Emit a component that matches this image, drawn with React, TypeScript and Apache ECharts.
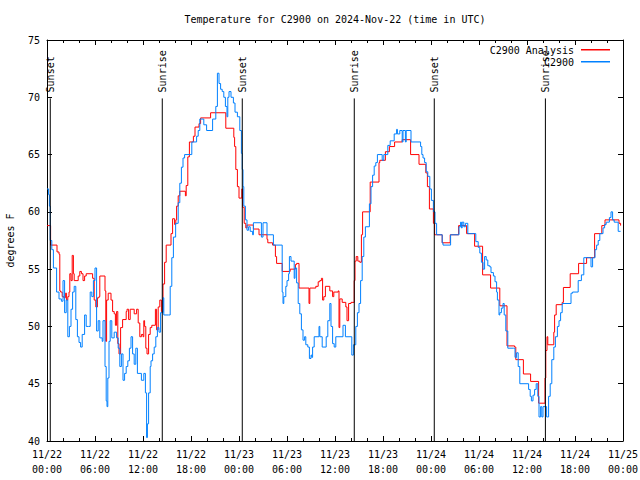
import React, { useEffect, useRef } from "react";
import * as echarts from "echarts";

// Hours since 2024-11-22 00:00 UTC
const analysisHours = [0.0, 0.45, 1.25, 1.5, 1.6, 1.7, 1.9, 2.1, 2.3, 2.45, 2.6, 2.75, 2.85, 3.0, 3.15, 3.3, 3.4, 3.9, 4.1, 4.3, 4.5, 4.7, 4.9, 5.7, 5.9, 6.1, 6.3, 6.5, 6.6, 7.25, 7.35, 7.45, 7.65, 8.0, 8.2, 8.4, 8.55, 8.7, 8.85, 9.0, 9.2, 9.45, 9.9, 10.0, 10.2, 10.4, 10.9, 11.2, 11.4, 11.6, 11.8, 12.0, 12.1, 12.2, 12.35, 12.5, 12.7, 12.9, 13.1, 13.55, 13.7, 13.9, 14.1, 14.3, 14.5, 14.7, 14.9, 15.5, 15.7, 15.95, 16.1, 16.2, 16.4, 16.6, 17.3, 17.4, 17.6, 17.8, 18.3, 18.5, 19.0, 19.2, 20.45, 22.35, 23.35, 23.45, 23.6, 23.8, 24.0, 24.35, 24.45, 24.65, 24.85, 25.0, 25.8, 26.5, 27.5, 27.6, 28.2, 28.55, 28.7, 29.4, 30.4, 31.05, 31.2, 31.5, 32.75, 32.85, 33.6, 33.9, 34.1, 34.3, 34.45, 34.6, 34.8, 35.35, 35.7, 35.85, 36.4, 36.5, 36.6, 36.9, 37.35, 37.5, 37.7, 38.0, 38.4, 38.5, 38.65, 38.85, 39.1, 39.3, 39.45, 40.4, 41.5, 41.6, 42.3, 42.8, 43.45, 44.4, 45.45, 46.5, 47.35, 47.55, 47.8, 48.3, 48.45, 49.4, 50.4, 51.45, 52.45, 53.45, 54.45, 55.45, 56.6, 57.5, 58.45, 58.6, 59.55, 60.45, 61.45, 62.25, 62.35, 62.5, 62.6, 63.35, 63.45, 63.65, 64.4, 64.55, 65.4, 66.45, 67.45, 68.45, 69.35, 69.75, 71.5, 71.7];
const analysisTemps = [58.8, 57.1, 56.5, 56.3, 53.1, 53.0, 52.6, 52.5, 52.9, 52.3, 52.6, 53.0, 54.6, 54.0, 56.2, 54.6, 54.0, 54.4, 54.8, 54.6, 54.0, 54.4, 54.6, 54.2, 52.3, 51.7, 52.5, 52.6, 54.4, 53.1, 48.7, 52.3, 52.9, 52.3, 51.3, 51.1, 50.1, 51.3, 48.5, 47.6, 49.9, 50.6, 51.3, 51.5, 50.6, 51.5, 51.1, 51.5, 50.3, 49.1, 49.3, 49.1, 50.5, 50.0, 48.1, 47.6, 49.3, 49.9, 50.1, 51.5, 49.7, 51.7, 52.3, 51.3, 53.7, 55.6, 57.1, 58.1, 59.4, 58.9, 59.3, 60.5, 61.4, 61.8, 61.4, 62.3, 64.8, 66.1, 66.6, 67.4, 67.7, 68.2, 68.65, 67.3, 66.5, 65.7, 63.7, 62.2, 61.2, 62.0, 60.4, 59.0, 58.6, 58.85, 58.5, 58.0, 57.6, 57.3, 57.1, 56.1, 55.5, 54.8, 55.0, 55.4, 55.5, 53.35, 52.0, 53.35, 53.5, 53.9, 54.0, 54.2, 52.3, 52.6, 53.5, 53.1, 52.6, 53.0, 53.1, 49.9, 52.4, 52.1, 51.7, 50.5, 52.0, 52.1, 54.0, 55.7, 56.1, 55.7, 55.6, 58.0, 60.0, 62.6, 64.3, 64.5, 65.25, 65.7, 66.1, 66.3, 65.0, 64.15, 63.4, 62.2, 60.25, 59.0, 58.0, 57.3, 58.0, 58.8, 58.1, 57.0, 54.5, 53.35, 51.8, 48.3, 48.2, 47.1, 45.85, 45.2, 43.3, 45.5, 47.9, 49.1, 48.4, 49.5, 51.0, 51.9, 52.1, 53.4, 54.6, 55.5, 56.0, 58.1, 58.8, 59.3, 59.0, 58.8];

const observedHours = [0.0, 0.2, 0.3, 0.4, 0.6, 0.8, 1.2, 1.5, 1.8, 2.0, 2.2, 2.4, 2.6, 2.8, 3.0, 3.2, 3.4, 3.6, 3.8, 4.0, 4.2, 4.4, 4.7, 4.9, 5.2, 5.4, 5.6, 5.8, 6.0, 6.2, 6.4, 6.6, 6.9, 7.0, 7.25, 7.4, 7.5, 7.6, 7.75, 7.9, 8.1, 8.4, 8.7, 8.9, 9.1, 9.3, 9.5, 9.7, 9.9, 10.1, 10.3, 10.5, 10.7, 10.9, 11.1, 11.3, 11.8, 12.1, 12.3, 12.45, 12.55, 12.7, 12.9, 13.0, 13.2, 13.4, 13.6, 13.8, 14.0, 14.2, 14.5, 14.6, 15.2, 15.4, 15.6, 15.8, 16.08, 16.4, 16.6, 16.8, 17.0, 17.2, 18.1, 18.7, 18.9, 19.1, 19.6, 19.95, 20.7, 21.1, 21.3, 21.5, 21.7, 21.9, 22.1, 22.3, 22.5, 22.6, 22.75, 23.0, 23.3, 23.5, 23.8, 24.1, 24.3, 24.4, 24.5, 24.6, 24.8, 25.0, 25.2, 25.4, 25.7, 25.8, 26.8, 27.0, 27.5, 28.3, 29.4, 29.5, 29.6, 29.85, 30.0, 30.2, 30.3, 30.5, 30.9, 31.0, 31.2, 31.4, 31.6, 31.8, 32.0, 32.2, 32.35, 32.6, 32.8, 33.0, 33.1, 33.2, 33.4, 34.0, 34.1, 34.4, 34.9, 35.1, 35.35, 35.5, 35.7, 35.9, 36.1, 37.0, 37.3, 38.1, 38.3, 38.6, 38.8, 39.0, 39.2, 39.4, 39.6, 39.8, 40.3, 40.5, 40.7, 40.9, 41.1, 41.3, 41.9, 42.1, 42.6, 42.9, 43.4, 43.7, 43.8, 44.1, 44.4, 44.5, 44.8, 44.9, 45.5, 46.7, 46.85, 47.0, 47.2, 47.4, 47.6, 47.85, 48.05, 48.3, 48.5, 48.7, 49.4, 49.5, 50.45, 51.5, 51.7, 51.8, 51.9, 52.1, 52.3, 52.6, 53.6, 53.9, 54.1, 54.3, 54.5, 54.7, 54.9, 55.1, 55.35, 55.5, 55.8, 56.0, 56.2, 56.3, 56.5, 56.6, 56.8, 57.0, 57.15, 57.35, 57.6, 58.3, 58.5, 58.7, 58.9, 59.1, 60.2, 60.4, 60.55, 60.75, 60.95, 61.15, 61.35, 61.5, 61.7, 61.85, 62.0, 62.3, 62.45, 62.6, 62.7, 62.9, 63.1, 63.35, 63.55, 63.8, 64.0, 64.2, 64.4, 65.5, 65.7, 66.4, 66.8, 67.1, 68.0, 68.2, 68.5, 68.7, 68.9, 69.1, 69.5, 69.7, 69.9, 70.3, 70.5, 70.7, 70.9, 71.4, 71.7];
const observedTemps = [62.0, 61.5, 60.5, 57.5, 56.7, 55.1, 53.0, 52.4, 52.2, 54.0, 51.2, 52.3, 49.1, 50.0, 51.5, 53.0, 53.5, 50.6, 49.1, 48.6, 48.2, 49.3, 51.0, 50.0, 50.0, 53.0, 52.6, 54.0, 55.1, 49.6, 50.5, 49.0, 48.7, 50.5, 46.5, 43.5, 43.0, 45.5, 48.7, 50.5, 49.0, 49.5, 49.0, 48.1, 46.5, 47.6, 45.3, 45.9, 46.5, 47.0, 48.1, 49.1, 47.6, 46.7, 48.1, 45.9, 45.3, 45.9, 44.2, 40.3, 41.5, 44.2, 46.5, 47.0, 47.6, 48.2, 49.1, 49.9, 49.5, 51.2, 52.5, 51.0, 51.0, 53.5, 56.0, 57.8, 59.0, 60.8, 62.5, 63.9, 64.7, 65.0, 66.1, 66.6, 67.1, 68.1, 67.6, 67.1, 68.1, 69.2, 72.1, 71.2, 70.7, 70.5, 70.0, 69.2, 68.3, 70.0, 70.5, 70.0, 69.5, 68.7, 68.3, 67.1, 65.1, 63.7, 62.2, 60.5, 59.3, 58.4, 58.7, 58.3, 58.0, 59.05, 57.8, 59.05, 58.0, 57.1, 53.0, 52.0, 52.6, 53.5, 54.0, 54.6, 56.1, 55.7, 54.2, 55.1, 53.8, 52.0, 51.1, 49.7, 48.8, 49.1, 48.4, 48.2, 47.2, 47.5, 47.3, 48.2, 49.1, 50.0, 49.1, 48.2, 49.1, 50.5, 52.0, 50.0, 48.5, 48.2, 49.1, 50.1, 49.1, 47.5, 48.4, 50.0, 51.2, 52.0, 54.0, 56.1, 57.8, 58.7, 60.7, 62.2, 63.2, 64.0, 64.3, 65.0, 64.5, 65.0, 65.8, 66.2, 66.8, 67.2, 66.8, 67.1, 66.1, 67.1, 66.1, 67.1, 66.1, 65.7, 65.0, 64.7, 64.3, 63.5, 63.1, 62.0, 61.0, 60.0, 59.0, 58.0, 57.3, 57.1, 58.0, 58.7, 59.1, 58.6, 59.1, 58.7, 59.0, 58.1, 57.4, 56.9, 56.4, 55.6, 55.0, 56.1, 55.8, 55.3, 55.2, 54.7, 54.4, 53.9, 53.0, 52.3, 51.0, 51.2, 51.6, 52.0, 51.0, 49.6, 48.1, 48.1, 47.3, 47.7, 46.5, 45.0, 44.5, 43.9, 43.5, 44.0, 44.5, 45.0, 43.9, 42.1, 43.0, 42.1, 43.0, 43.0, 42.1, 42.1, 43.9, 45.0, 47.1, 48.2, 49.1, 50.0, 50.5, 51.2, 52.0, 52.9, 53.0, 54.0, 54.5, 56.0, 55.2, 56.0, 56.7, 57.1, 57.5, 58.1, 58.6, 58.9, 59.1, 59.5, 60.0, 59.3, 59.1, 58.3, 58.3];

const sunEventHours = [0.41, 14.41, 24.41, 38.41, 48.41, 62.3];
const sunEventLabels = ["Sunset", "Sunrise", "Sunset", "Sunrise", "Sunset", "Sunrise"];
const sunLineTop = 69.9;

const seriesNames = ["C2900 Analysis", "C2900"];
const seriesColors = ["#ff0000", "#0080ff"];
const titleText = "Temperature for C2900 on 2024-Nov-22 (time in UTC)";
const yAxisTitle = "degrees F";
const startDay = 22;

const FONT = '"DejaVu Sans Mono", "Liberation Mono", monospace';

const zip = (xs: number[], ys: number[]) => xs.map((x, i) => [x, ys[i]]);
const pad = (n: number) => (n < 10 ? "0" + n : "" + n);

export default function App() {
  const ref = useRef<HTMLDivElement>(null);
  useEffect(() => {
    if (!ref.current) return;
    const chart = echarts.init(ref.current, null, { renderer: "svg" });
    const xCommon = {
      type: "value" as const,
      min: 0,
      max: 72,
      interval: 6,
      axisLine: { show: true, onZero: false, lineStyle: { color: "#000", width: 1 } },
      axisTick: { show: true, inside: true, length: 5, lineStyle: { color: "#000" } },
      minorTick: { show: true, splitNumber: 3, length: 3, lineStyle: { color: "#000" } },
      splitLine: { show: false },
    };
    const yCommon = {
      type: "value" as const,
      min: 40,
      max: 75,
      interval: 5,
      axisLine: { show: true, onZero: false, lineStyle: { color: "#000", width: 1 } },
      axisTick: { show: true, inside: true, length: 5, lineStyle: { color: "#000" } },
      splitLine: { show: false },
    };
    chart.setOption({
      animation: false,
      backgroundColor: "#fff",
      textStyle: { fontFamily: FONT },
      grid: {
        left: 47,
        right: 17,
        top: 40,
        bottom: 39,
        containLabel: false,
        outerBoundsMode: "none",
      },
      xAxis: [
        {
          ...xCommon,
          position: "bottom",
          axisLabel: {
            show: true,
            margin: 6,
            color: "#000",
            fontFamily: FONT,
            fontSize: 10,
            lineHeight: 15,
            formatter: (v: number) =>
              `11/${startDay + Math.floor(v / 24)}\n${pad(v % 24)}:00`,
          },
        },
        { ...xCommon, position: "top", axisLabel: { show: false } },
      ],
      yAxis: [
        {
          ...yCommon,
          position: "left",
          name: yAxisTitle,
          nameLocation: "middle",
          nameRotate: 90,
          nameGap: 32,
          nameTextStyle: { fontFamily: FONT, fontSize: 10, color: "#000" },
          axisLabel: { show: true, margin: 7, color: "#000", fontFamily: FONT, fontSize: 10 },
        },
        { ...yCommon, position: "right", axisLabel: { show: false } },
      ],
      series: [
        {
          name: seriesNames[0],
          type: "line",
          step: "end",
          showSymbol: false,
          symbol: "none",
          data: zip(analysisHours, analysisTemps),
          lineStyle: { color: seriesColors[0], width: 1 },
          itemStyle: { color: seriesColors[0] },
          z: 2,
        },
        {
          name: seriesNames[1],
          type: "line",
          step: "end",
          showSymbol: false,
          symbol: "none",
          data: zip(observedHours, observedTemps),
          lineStyle: { color: seriesColors[1], width: 1 },
          itemStyle: { color: seriesColors[1] },
          z: 3,
        },
        {
          type: "custom",
          clip: false,
          z: 4,
          data: sunEventHours.map((h) => [h]),
          renderItem: (params: any, api: any) => {
            const h = api.value(0);
            const p0 = api.coord([h, 40]);
            const p1 = api.coord([h, sunLineTop]);
            return {
              type: "group",
              children: [
                {
                  type: "line",
                  shape: { x1: p0[0], y1: p0[1], x2: p1[0], y2: p1[1] },
                  style: { stroke: "#000", lineWidth: 1 },
                },
                {
                  type: "text",
                  x: p1[0] + 0.5,
                  y: p1[1] - 6,
                  rotation: Math.PI / 2,
                  style: {
                    text: sunEventLabels[params.dataIndex],
                    fill: "#000",
                    font: `10px ${FONT}`,
                    align: "left",
                    verticalAlign: "middle",
                  },
                },
              ],
            };
          },
        },
      ],
      graphic: [
        {
          type: "text",
          x: 335,
          y: 19,
          style: {
            text: titleText,
            fill: "#000",
            font: `10px ${FONT}`,
            align: "center",
            verticalAlign: "middle",
          },
        },
        {
          type: "text",
          x: 574,
          y: 50,
          style: {
            text: seriesNames[0],
            fill: "#000",
            font: `10px ${FONT}`,
            align: "right",
            verticalAlign: "middle",
          },
        },
        {
          type: "rect",
          shape: { x: 581, y: 49, width: 29, height: 1.5 },
          style: { fill: seriesColors[0] },
        },
        {
          type: "text",
          x: 574,
          y: 62,
          style: {
            text: seriesNames[1],
            fill: "#000",
            font: `10px ${FONT}`,
            align: "right",
            verticalAlign: "middle",
          },
        },
        {
          type: "rect",
          shape: { x: 581, y: 61, width: 29, height: 1.5 },
          style: { fill: seriesColors[1] },
        },
      ],
    });
    return () => chart.dispose();
  }, []);
  return <div ref={ref} style={{ width: 640, height: 480, position: "absolute", left: 0, top: 0 }} />;
}
